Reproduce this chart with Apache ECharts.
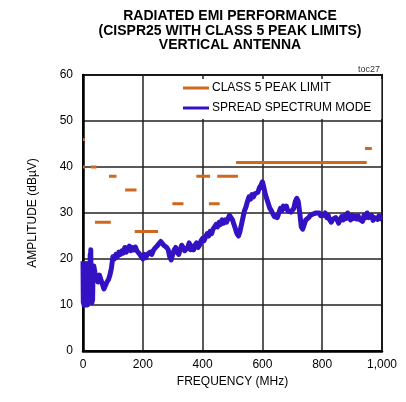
<!DOCTYPE html>
<html>
<head>
<meta charset="utf-8">
<script src="https://cdn.jsdelivr.net/npm/echarts@6/dist/echarts.min.js"></script>
<style>
html,body{margin:0;padding:0;background:#fff;}
#c{width:406px;height:402px;}
</style>
</head>
<body>
<div id="c"></div>
<script>
var titleLines = ['RADIATED EMI PERFORMANCE', '(CISPR25 WITH CLASS 5 PEAK LIMITS)', 'VERTICAL ANTENNA'];
var seriesNames = ['CLASS 5 PEAK LIMIT', 'SPREAD SPECTRUM MODE'];
var xTicks = [0, 200, 400, 600, 800, 1000];
var yTicks = [0, 10, 20, 30, 40, 50, 60];

// [start MHz, end MHz, limit dBuV]
var class5Limits = [
  [0, 6, 46], [0, 6, 40], [26, 45, 40], [40, 93, 28], [87, 112, 38],
  [141, 179, 35], [173, 251, 26], [299, 336, 32], [379, 425, 38], [421, 457, 32],
  [449, 518, 38], [512, 949, 41], [943, 966, 44]
];

// [MHz, dBuV]
var spreadSpectrum = [
[0,19.5],[1,10.5],[2,18],[3,10],[4,19],[5,11],[6,17.5],[7,10],[8,18.5],[9,10.5],[10,17],[11,10],[12,19],[13,11],[14,16.5],[15,10],[16,18],[17,10.5],[18,17.5],[19,11],[20,19],[21,11.5],[22,18],[23,11],[24,21],[25,15],[26,22],[27,13],[28,11],[29,16],[30,10.5],[31,13],[32,11],[33,15],[34,17],
[36,18.5],[40,17],[45,16],[50,15],[55,16.5],[60,15.5],[65,14.5],[70,13.5],[75,13.8],[80,15],[85,15.5],[90,16.5],[95,18],[100,20.5],
[105,20],[110,21],[115,20.5],[120,21.5],[125,21],[130,21.8],[135,21.3],[140,22.5],[145,21.5],[150,22.3],[155,22.8],[160,21.8],[165,22.5],[170,22],[175,22.6],[180,21.8],[185,22],[190,21],[195,20.5],[200,20],
[205,21],[210,20.3],[215,21],[220,20.8],[225,21.5],[230,21],[235,21.8],[240,22.3],[245,22],[250,23],[255,23.3],[260,23.8],[265,23.5],[270,23],[275,23.2],[280,22.5],[285,22],[290,20.5],[295,19.8],[300,21],
[305,22],[310,22.5],[315,21.5],[320,21],[325,22],[330,23],[335,22.5],[340,21.8],[345,21.5],[350,22.5],[355,23.5],[360,22],[365,22.8],[370,22],[375,23],[380,23.5],[385,22.5],[390,23],[395,24],[400,24.5],
[405,24],[410,24.8],[415,25.5],[420,25],[425,26],[430,25.5],[435,26.5],[440,26.5],[445,27.5],[450,27],[455,28],[460,27.5],[465,28.5],[470,27.8],[475,28.5],[480,28],[485,28.8],[490,29.5],[495,29.2],[500,28.5],
[505,27.5],[510,26.5],[515,25.5],[520,25],[525,26],[530,27.5],[535,29],[540,30.5],[545,31.3],[550,32.5],[555,33.5],[560,33],[565,34],[570,33.5],[575,34.2],[580,33.8],[585,34.5],[590,35.5],[595,36],[600,36.8],
[605,35.5],[610,34],[615,33],[620,32],[625,31],[630,30.5],[635,29.8],[640,29.2],[645,28.8],[650,29],[655,30],[660,31],[665,30.5],[670,31.5],[675,31],[680,31.5],[685,30.5],[690,30.8],[695,30.2],[700,30],
[705,31],[710,32.5],[715,33.2],[720,32.5],[725,30],[730,27],[735,26.5],[740,27.5],[745,28.5],[750,28.2],[755,29],[760,29.5],[765,29.2],[770,29.8],[775,29.5],[780,30],[785,29.6],[790,30],[795,29.4],[800,29.8],
[805,29.5],[810,30],[815,29],[820,29.5],[825,28.5],[830,28],[835,28.6],[840,28.3],[845,29],[850,28.5],[855,27.8],[860,28.6],[865,29.2],[870,28.5],[875,29.5],[880,28.8],[885,30],[890,29],[895,28.5],[900,29.5],
[905,28.8],[910,29.3],[915,28.7],[920,29.4],[925,28.6],[930,29],[935,28.2],[940,29.5],[945,29],[950,30],[955,29],[960,28.6],[965,29.5],[970,28.4],[975,29],[980,29.2],[985,28.6],[990,29.4],[995,28.8],[1000,28.6]
];

var limitData = [];
class5Limits.forEach(function (s) {
  limitData.push([s[0], s[2]]);
  limitData.push([s[1], s[2]]);
  limitData.push([s[1], '-']);
});

var FONT = 'Liberation Sans, Arial, sans-serif';
var chart = echarts.init(document.getElementById('c'), null, {renderer: 'canvas'});
chart.setOption({
  animation: false,
  backgroundColor: '#fff',
  textStyle: {fontFamily: FONT},
  graphic: [
    {type: 'text', x: 230, y: 16, style: {text: titleLines[0], fontFamily: FONT, fontSize: 14, fontWeight: 'bold', fill: '#000', align: 'center', verticalAlign: 'middle'}},
    {type: 'text', x: 230, y: 31, style: {text: titleLines[1], fontFamily: FONT, fontSize: 14, fontWeight: 'bold', fill: '#000', align: 'center', verticalAlign: 'middle'}},
    {type: 'text', x: 230, y: 45.5, style: {text: titleLines[2], fontFamily: FONT, fontSize: 14, fontWeight: 'bold', fill: '#000', align: 'center', verticalAlign: 'middle'}},
    {type: 'text', x: 380, y: 70, style: {text: 'toc27', fontFamily: FONT, fontSize: 9, fill: '#333', align: 'right', verticalAlign: 'middle'}}
  ],
  grid: {left: 83, right: 24, top: 75, bottom: 51, show: true, borderColor: '#000', borderWidth: 2, containLabel: false},
  legend: {
    orient: 'vertical', left: 179, top: 79, padding: [3, 10, 5, 4],
    backgroundColor: '#fff', itemGap: 8, itemWidth: 26, itemHeight: 3, icon: 'rect',
    textStyle: {fontFamily: FONT, fontSize: 12, color: '#000', padding: [0, 0, 0, -2]},
    data: seriesNames
  },
  xAxis: {
    type: 'value', min: xTicks[0], max: xTicks[xTicks.length - 1], interval: 200,
    name: 'FREQUENCY (MHz)', nameLocation: 'middle', nameGap: 25,
    nameTextStyle: {fontFamily: FONT, fontSize: 12, color: '#000'},
    axisLine: {show: true, lineStyle: {color: '#000', width: 2.5}},
    axisTick: {show: false},
    axisLabel: {margin: 8, fontFamily: FONT, fontSize: 12, color: '#000',
      formatter: function (v) { return v >= 1000 ? (Math.floor(v / 1000) + ',' + String(v % 1000).padStart(3, '0')) : String(v); }},
    splitLine: {show: true, lineStyle: {color: '#222', width: 1.5}}
  },
  yAxis: {
    type: 'value', min: yTicks[0], max: yTicks[yTicks.length - 1], interval: 10,
    name: 'AMPLITUDE (dB\u00b5V)', nameLocation: 'middle', nameGap: 44, nameRotate: 90,
    nameTextStyle: {fontFamily: FONT, fontSize: 12, color: '#000'},
    axisLine: {show: true, lineStyle: {color: '#000', width: 2.5}},
    axisTick: {show: false},
    axisLabel: {margin: 10, fontFamily: FONT, fontSize: 12, color: '#000'},
    splitLine: {show: true, lineStyle: {color: '#222', width: 1.5}}
  },
  series: [
    {
      name: seriesNames[0], type: 'line', data: limitData, showSymbol: false, symbol: 'none',
      connectNulls: false, color: '#d0671f', z: 5, clip: false,
      lineStyle: {color: '#d0671f', width: 3}
    },
    {
      name: seriesNames[1], type: 'line', data: spreadSpectrum, showSymbol: false, symbol: 'none',
      color: '#3412c4', z: 4, sampling: null,
      lineStyle: {color: '#3412c4', width: 5, join: 'round'}
    }
  ]
});
</script>
</body>
</html>
